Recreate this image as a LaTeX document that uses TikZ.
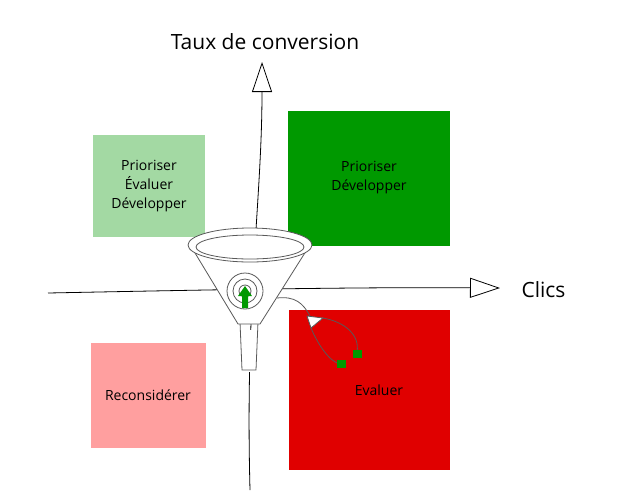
\documentclass[tikz,border=0pt]{standalone}
\usepackage{fontspec}
\setmainfont{Open Sans}
\usetikzlibrary{arrows.meta, positioning}
\definecolor{lightgreen}{HTML}{A3D9A3}
\definecolor{darkgreen}{HTML}{009900}
\definecolor{darkred}{HTML}{E00000}
\definecolor{lightred}{HTML}{FF9F9F}
\tikzset{
  quadrant/.style={rectangle, inner sep=0pt, align=center, font=\fontsize{14}{19}\selectfont},
  axis/.style={thick, -{Triangle[open, length=30pt, width=20pt]}},
  sketch/.style={draw=gray!70!black, line width=0.8pt}
}
\begin{document}
\begin{tikzpicture}[x=1pt, y=-1pt]
\useasboundingbox (0,0) rectangle (620,501);

% quadrants
\node (prio) [quadrant, fill=lightgreen, minimum width=112pt, minimum height=102pt] at (149,186) {Prioriser\\Évaluer\\Développer};
\node (dev) [quadrant, fill=darkgreen, minimum width=162pt, minimum height=135pt] at (369,178) {Prioriser\\Développer};
\node (recons) [quadrant, fill=lightred, minimum width=115pt, minimum height=105pt] at (148,395) {Reconsidérer};
\node (eval) [quadrant, fill=darkred, minimum width=161pt, minimum height=160pt] at (369,390) {};
\node at (379,390) [quadrant] {Evaluer};

% axes
\coordinate (origin) at (250,490);
\coordinate (ytop) at (262,62);
\coordinate (xleft) at (48,293);
\coordinate (xright) at (500,288);
\draw [axis] (origin) .. controls (245,300) and (262,200) .. (ytop);
\draw [axis] (xleft) .. controls (200,290) and (350,287) .. (xright);
\node (ylabel) [font=\fontsize{21}{24}\selectfont] at (265,42) {Taux de conversion};
\node (xlabel) [font=\fontsize{21}{24}\selectfont, anchor=west] at (518,290) {Clics};

% funnel
\fill [white] (240,330) rectangle (258,372);
\draw [sketch] (240,322) -- (242,370) -- (256,370) -- (258,322);
\fill [white, sketch] (192,248) -- (238,324) -- (260,324) -- (308,248) -- cycle;
\draw [sketch, fill=white] (250,245) ellipse (62pt and 17pt);
\draw [sketch] (250,247) ellipse (54pt and 12pt);
\draw [sketch] (245,291) circle (18pt);
\draw [sketch] (245,291) circle (12pt);
\draw [sketch] (245,291) circle (6pt);
\fill [darkgreen] (242,308) -- (242,296) -- (238,296) -- (245,286) -- (252,296) -- (248,296) -- (248,308) -- cycle;

% stethoscope
\draw [sketch] (277,298) .. controls (295,296) and (303,303) .. (310,316);
\draw [sketch, fill=white] (307,316) -- (323,318) -- (311,328) -- cycle;
\draw [sketch] (311,328) .. controls (318,345) and (330,362) .. (340,364);
\draw [sketch] (323,318) .. controls (345,322) and (360,335) .. (357,352);
\fill [darkgreen] (337,360) rectangle (346,368);
\fill [darkgreen] (353,350) rectangle (362,358);
\end{tikzpicture}
\end{document}
